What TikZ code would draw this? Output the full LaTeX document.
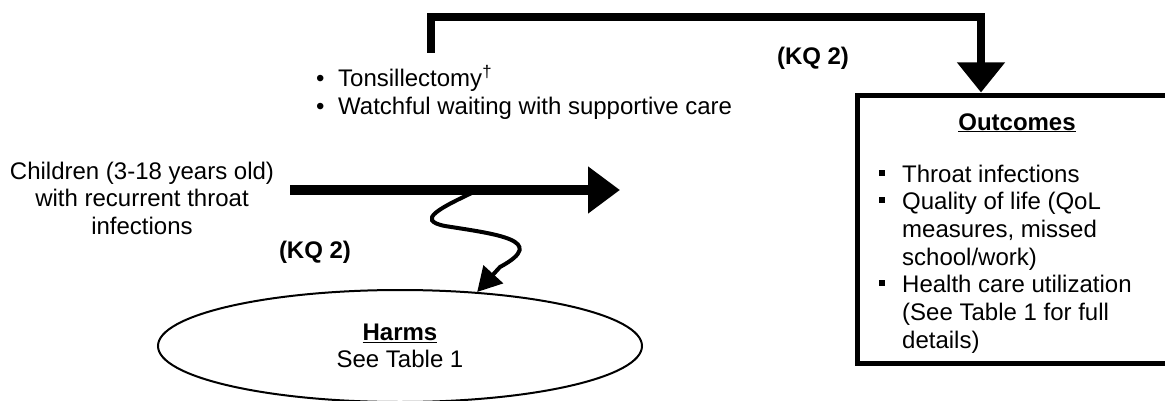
\documentclass[tikz,border=0pt]{standalone}
\usepackage{fontspec}
\setmainfont{Liberation Sans}
\usetikzlibrary{arrows.meta,shapes.geometric}
\tikzset{
  txt/.style={inner sep=0pt,font=\fontsize{24}{27.7}\selectfont},
  kq/.style={inner sep=0pt,font=\fontsize{24}{27.7}\selectfont\bfseries},
}
\newcommand\sqbullet{\rule[0.27em]{0.25em}{0.25em}}

\begin{document}
\begin{tikzpicture}[x=1pt,y=1pt]
    \useasboundingbox (0,0) rectangle (1165,400);
    \clip (0,0) rectangle (1165,400);
    % population and interventions
    \node[txt,anchor=base] (kids) at (142,221) {\begin{tabular}[t]{@{}c@{}}Children (3-18 years old)\\with recurrent throat\\infections\end{tabular}};
    \node[txt,anchor=base west] (tx) at (316,313) {\begin{tabular}[t]{@{}l@{\hspace{13.6pt}}l@{}}\textbullet & Tonsillectomy\textsuperscript{\textdagger}\\\textbullet & Watchful waiting with supportive care\end{tabular}};
    % outcomes box (runs off the right edge)
    \node[draw,line width=5pt,minimum width=350pt,minimum height=268pt] (outbox) at (1032,171) {};
    \node[txt,anchor=base] (outtitle) at (1017,270) {\underline{\textbf{Outcomes}}};
    \node[txt,anchor=base west] (outlist) at (879,218) {\begin{tabular}[t]{@{}l@{\hspace{17pt}}l@{}}
        \sqbullet & Throat infections\\
        \sqbullet & Quality of life (QoL\\
                  & measures, missed\\
                  & school/work)\\
        \sqbullet & Health care utilization\\
                  & (See Table 1 for full\\
                  & details)
    \end{tabular}};
    % harms
    \node[txt,ellipse,draw,line width=2pt,minimum width=484pt,minimum height=112pt,align=center] (harms) at (400,54) {\underline{\textbf{Harms}}\\See Table 1};
    \node[kq] (kqtop) at (813,342) {(KQ 2)};
    \node[kq] (kqlow) at (315,148) {(KQ 2)};
    % arrows
    \coordinate (mainstart) at (290,210);
    \coordinate (maintip) at (620,210);
    \coordinate (split) at (478,210);
    \coordinate (topstart) at (431,347);
    \draw[line width=10pt,-{Triangle[length=32pt,width=45pt]}] (mainstart) -- (maintip);
    \draw[line width=8pt,-{Triangle[length=30pt,width=46pt]}] (topstart) |- ([xshift=-51pt,yshift=75pt]outbox.north) -- ([xshift=-51pt]outbox.north);
    \draw[line width=4pt,-{Triangle[length=24pt,width=26pt]}] (split) .. controls (440,192) and (415,180) .. (445,174) .. controls (495,166) and (550,160) .. (500,133) -- (harms.35);
\end{tikzpicture}
\end{document}
